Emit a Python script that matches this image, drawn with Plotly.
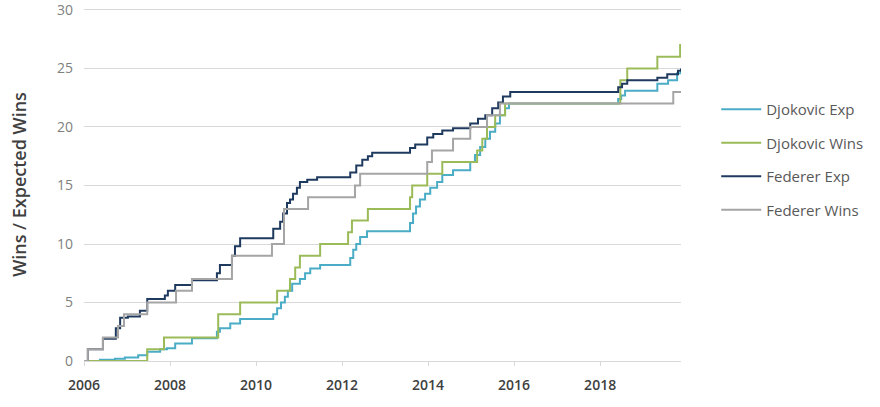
import plotly.graph_objects as go

# Djokovic Exp
dj_exp_x = [2006.00, 2006.37, 2006.72, 2006.95, 2007.26, 2007.47, 2007.77, 2007.93, 2008.12, 2008.51,
            2009.09, 2009.16, 2009.40, 2009.63, 2010.40, 2010.49, 2010.58, 2010.67, 2010.74, 2010.84,
            2011.02, 2011.14, 2011.26, 2011.49, 2012.19, 2012.26, 2012.33, 2012.42, 2012.58, 2013.58,
            2013.65, 2013.72, 2013.81, 2013.93, 2014.05, 2014.21, 2014.33, 2014.58, 2014.98, 2015.09,
            2015.21, 2015.33, 2015.44, 2015.56, 2015.67, 2015.79, 2015.88, 2018.42, 2018.49, 2018.58,
            2019.33, 2019.58, 2019.79, 2019.88]
dj_exp_y = [0.0, 0.1, 0.2, 0.3, 0.5, 0.8, 1.0, 1.1, 1.5, 1.95,
            2.5, 2.8, 3.2, 3.6, 4.0, 4.5, 5.0, 5.5, 6.0, 6.6,
            7.0, 7.5, 7.9, 8.2, 8.8, 9.5, 10.0, 10.6, 11.1, 11.8,
            12.6, 13.2, 13.8, 14.3, 14.8, 15.3, 15.9, 16.3, 17.0, 17.6,
            18.3, 19.0, 19.6, 20.3, 21.0, 21.6, 22.0, 22.4, 22.7, 23.1,
            23.7, 24.0, 24.6, 24.8]

# Djokovic Wins
dj_win_x = [2006.00, 2007.47, 2007.86, 2009.12, 2009.63, 2010.49, 2010.79, 2010.91, 2011.02, 2011.49,
            2012.14, 2012.23, 2012.60, 2013.58, 2013.63, 2013.98, 2014.33, 2015.14, 2015.26, 2015.37,
            2015.56, 2015.79, 2018.47, 2018.63, 2019.33, 2019.86, 2019.88]
dj_win_y = [0, 1, 2, 4, 5, 6, 7, 8, 9, 10,
            11, 12, 13, 14, 15, 16, 17, 18, 19, 20,
            21, 22, 24, 25, 26, 27, 27]

# Federer Exp
fe_exp_x = [2006.00, 2006.09, 2006.44, 2006.74, 2006.84, 2007.02, 2007.30, 2007.47, 2007.88, 2007.95,
            2008.12, 2008.51, 2009.09, 2009.16, 2009.44, 2009.51, 2009.63, 2010.40, 2010.56, 2010.63,
            2010.72, 2010.79, 2010.86, 2010.95, 2011.02, 2011.19, 2011.42, 2012.19, 2012.33, 2012.47,
            2012.60, 2012.70, 2013.58, 2013.70, 2013.98, 2014.12, 2014.33, 2014.58, 2014.98, 2015.16,
            2015.33, 2015.49, 2015.63, 2015.74, 2015.91, 2018.42, 2018.51, 2018.63, 2019.33, 2019.56,
            2019.81, 2019.88]
fe_exp_y = [0.0, 1.0, 1.9, 2.8, 3.7, 3.8, 4.3, 5.3, 5.6, 6.0,
            6.5, 6.9, 7.5, 8.2, 9.0, 9.8, 10.5, 11.3, 11.9, 12.6,
            13.5, 13.8, 14.3, 14.8, 15.3, 15.5, 15.7, 16.1, 16.7, 17.2,
            17.5, 17.8, 18.2, 18.5, 19.1, 19.4, 19.7, 19.9, 20.3, 20.7,
            21.0, 21.6, 22.1, 22.6, 23.0, 23.4, 23.7, 24.0, 24.2, 24.5,
            24.8, 25.0]

# Federer Wins
fe_win_x = [2006.00, 2006.09, 2006.44, 2006.79, 2006.93, 2007.47, 2008.14, 2008.51, 2009.44, 2010.37,
            2010.65, 2011.21, 2012.30, 2012.42, 2013.98, 2014.09, 2014.58, 2014.98, 2015.37, 2015.67,
            2019.70, 2019.88]
fe_win_y = [0, 1, 2, 3, 4, 5, 6, 7, 9, 10,
            13, 14, 15, 16, 17, 18, 19, 20, 21, 22,
            23, 23]

series_names = ["Djokovic Exp", "Djokovic Wins", "Federer Exp", "Federer Wins"]
series_colors = ["#4BACC6", "#9BBB59", "#1F3A5F", "#A5A5A5"]
series_data = [(dj_exp_x, dj_exp_y), (dj_win_x, dj_win_y), (fe_exp_x, fe_exp_y), (fe_win_x, fe_win_y)]

x_ticks = [2006, 2008, 2010, 2012, 2014, 2016, 2018]
y_ticks = [0, 5, 10, 15, 20, 25, 30]

fig = go.Figure()
for name, color, (xs, ys) in zip(series_names, series_colors, series_data):
    fig.add_trace(go.Scatter(x=xs, y=ys, name=name, mode="lines", line_shape="hv",
                             line=dict(color=color, width=2), legendgroup=name))

fig.update_layout(
    width=880, height=407,
    margin=dict(l=84, r=199, t=8, b=46),
    paper_bgcolor="white", plot_bgcolor="white",
    font=dict(family="Open Sans, Liberation Sans, sans-serif", color="#595959", size=12),
    showlegend=True,
    legend=dict(x=1.059, xanchor="left", xref="paper", y=0.759, yanchor="top",
                font=dict(size=15, color="#595959"), tracegroupgap=11,
                bgcolor="rgba(0,0,0,0)", itemwidth=40),
    xaxis=dict(range=[2006, 2019.88], tickvals=x_ticks, ticktext=[str(t) for t in x_ticks],
               showgrid=False, zeroline=False, showline=True, linecolor="#D9D9D9", linewidth=1,
               ticks="outside", ticklen=4, tickcolor="#D9D9D9", automargin=False,
               tickfont=dict(size=14, color="#404040", weight=600), ticklabelstandoff=7),
    yaxis=dict(range=[0, 30.17], tickvals=y_ticks, showgrid=True, gridcolor="#D9D9D9", gridwidth=1,
               zeroline=False, showline=False, ticks="", automargin=False,
               ticklabeloverflow="allow",
               tickfont=dict(size=14, color="#7F7F7F"), ticklabelstandoff=10,
               title=dict(text="Wins / Expected Wins", font=dict(size=18, color="#404040", weight=600),
                          standoff=25)),
)

fig.write_html("out.html", config={"displayModeBar": False},
               post_script="document.body.style.margin='0';")
